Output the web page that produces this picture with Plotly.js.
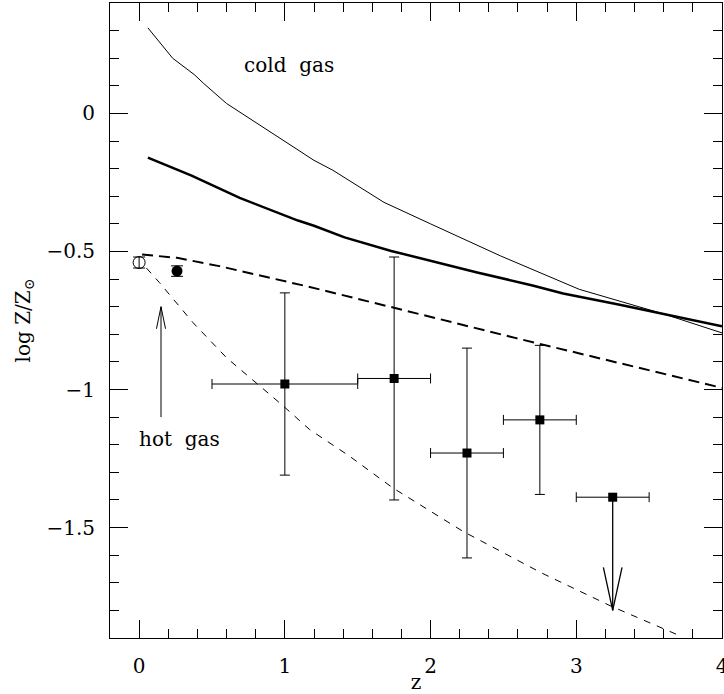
<!DOCTYPE html>
<html>
<head>
<meta charset="utf-8">
<script src="https://cdn.plot.ly/plotly-3.0.1.min.js"></script>
<style>html,body{margin:0;padding:0;background:#fff;}#chart{width:724px;height:694px;}</style>
</head>
<body>
<div id="chart"></div>
<script>
// ---- Data ----
// thin solid line ("cold gas")
const coldX = [0.06, 0.23, 0.38, 0.44, 0.60, 0.90, 1.20, 1.33, 1.68, 2.00, 2.48, 3.02, 3.61, 4.00];
const coldY = [0.31, 0.20, 0.14, 0.11, 0.036, -0.067, -0.17, -0.206, -0.322, -0.40, -0.516, -0.637, -0.728, -0.795];
// thick solid line
const thickX = [0.06, 0.17, 0.36, 0.69, 0.90, 1.09, 1.20, 1.41, 1.73, 2.00, 2.32, 2.70, 2.91, 3.29, 3.61, 4.00];
const thickY = [-0.16, -0.184, -0.225, -0.306, -0.348, -0.388, -0.407, -0.449, -0.498, -0.534, -0.576, -0.623, -0.652, -0.692, -0.728, -0.771];
// thick dashed line
const hotThickX = [0.02, 0.26, 0.55, 0.89, 1.15, 1.75, 2.58, 4.00];
const hotThickY = [-0.511, -0.523, -0.553, -0.595, -0.626, -0.704, -0.813, -0.994];
// thin dashed line
const hotThinX = [0.05, 0.14, 0.37, 0.60, 0.83, 0.99, 1.17, 1.44, 1.74, 2.22, 2.76, 3.24, 3.72];
const hotThinY = [-0.56, -0.613, -0.758, -0.885, -0.988, -1.06, -1.145, -1.24, -1.356, -1.513, -1.664, -1.785, -1.894];

// filled squares with error bars
const sqX = [1.0, 1.75, 2.25, 2.75];
const sqY = [-0.98, -0.96, -1.23, -1.11];
const sqXerr = [0.5, 0.25, 0.25, 0.25];
const sqYerr = [0.33, 0.44, 0.38, 0.27];
// upper limit point
const limX = [3.25];
const limY = [-1.39];
const limXerr = [0.25];
const limTo = [-1.80];

// hot gas observations
const openX = [0.0];
const openY = [-0.54];
const openErr = [0.02];
const fillX = [0.26];
const fillY = [-0.571];
const fillErr = [0.019];

// "hot gas" label arrow
const hotArrowX = [0.15];
const hotArrowFrom = [-1.10];
const hotArrowTo = [-0.70];

// text labels
const labelText = ['cold\u00a0\u00a0gas', 'hot\u00a0\u00a0gas'];
const labelX = [1.03, 0.28];
const labelY = [0.176, -1.178];

const FONT = 'DejaVu Serif, Liberation Serif, serif';

function arrow(x, y0, y1, headLen, headHalf, w) {
  const dir = y1 > y0 ? -1 : 1;
  return {
    type: 'scatter', mode: 'lines', hoverinfo: 'skip', showlegend: false,
    x: [x, x, null, x - headHalf, x, x + headHalf],
    y: [y0, y1, null, y1 + dir * headLen, y1, y1 + dir * headLen],
    line: {color: 'black', width: w}
  };
}

const traces = [
  {x: coldX, y: coldY, mode: 'lines', line: {color: 'black', width: 1}},
  {x: thickX, y: thickY, mode: 'lines', line: {color: 'black', width: 2.5}},
  {x: hotThickX, y: hotThickY, mode: 'lines', line: {color: 'black', width: 2, dash: '11px,6px'}},
  {x: hotThinX, y: hotThinY, mode: 'lines', line: {color: 'black', width: 1, dash: '7px,7px'}},
  {x: sqX, y: sqY, mode: 'markers', marker: {symbol: 'square', size: 9, color: 'black'},
   error_x: {type: 'data', array: sqXerr, color: 'black', thickness: 1, width: 5},
   error_y: {type: 'data', array: sqYerr, color: 'black', thickness: 1, width: 5}},
  {x: limX, y: limY, mode: 'markers', marker: {symbol: 'square', size: 9, color: 'black'},
   error_x: {type: 'data', array: limXerr, color: 'black', thickness: 1, width: 5}},
  arrow(limX[0], limY[0], limTo[0], 0.156, 0.064, 1.3),
  {x: openX, y: openY, mode: 'markers', marker: {symbol: 'circle-open', size: 12, color: 'black', line: {width: 1}},
   error_y: {type: 'data', array: openErr, color: 'black', thickness: 1, width: 6}},
  {x: fillX, y: fillY, mode: 'markers', marker: {symbol: 'circle', size: 11, color: 'black'},
   error_y: {type: 'data', array: fillErr, color: 'black', thickness: 1, width: 6}},
  arrow(hotArrowX[0], hotArrowFrom[0], hotArrowTo[0], 0.08, 0.031, 1)
];
traces.forEach(t => { t.showlegend = false; t.hoverinfo = 'skip'; });

const axisCommon = {
  showgrid: false, zeroline: false, showline: true, linecolor: 'black', linewidth: 1,
  mirror: 'allticks', ticks: 'inside', ticklen: 18, tickwidth: 1, tickcolor: 'black',
  tickfont: {family: FONT, size: 20, color: 'black'},
  ticklabelstandoff: 10, ticklabeloverflow: 'allow'
};

const layout = {
  width: 724, height: 694,
  margin: {l: 110, r: 2, t: 3, b: 56},
  paper_bgcolor: 'white', plot_bgcolor: 'white',
  showlegend: false,
  xaxis: Object.assign({}, axisCommon, {
    range: [-0.2, 4.0001], tick0: 0, dtick: 1,
    minor: {dtick: 0.2, ticks: 'inside', ticklen: 9, tickwidth: 1, tickcolor: 'black'},
    title: {text: 'z', font: {family: FONT, size: 20, color: 'black'}, standoff: 2}
  }),
  yaxis: Object.assign({}, axisCommon, {
    range: [-1.9, 0.4], tick0: 0, dtick: 0.5,
    minor: {dtick: 0.1, ticks: 'inside', ticklen: 9, tickwidth: 1, tickcolor: 'black'},
    title: {text: 'log Z/Z<sub>⊙</sub>', font: {family: FONT, size: 20, color: 'black'}, standoff: 10}
  }),
  annotations: labelText.map((t, i) => ({
    x: labelX[i], y: labelY[i], xref: 'x', yref: 'y', text: t, showarrow: false,
    font: {family: FONT, size: 20, color: 'black'}
  }))
};

Plotly.newPlot('chart', traces, layout, {displayModeBar: false, staticPlot: true});
</script>
</body>
</html>
